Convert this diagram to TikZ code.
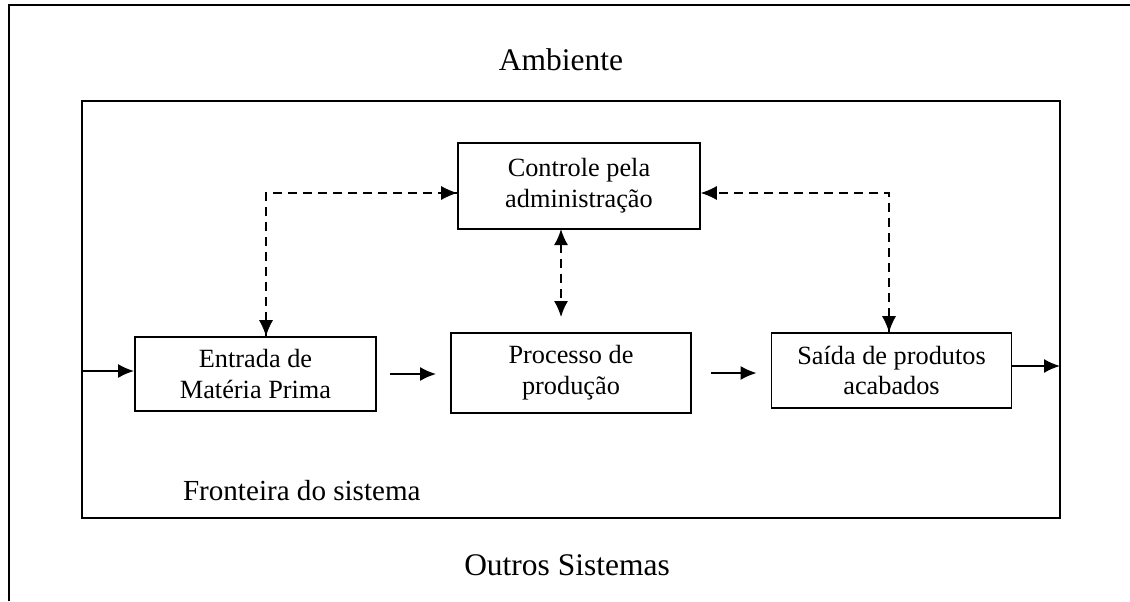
\documentclass[tikz,border=0pt]{standalone}
\usepackage{fontspec}
\setmainfont{Liberation Serif}
\usetikzlibrary{arrows.meta}
\tikzset{
  blockBox/.style={draw, line width=0.9bp, inner sep=0pt, align=center,
    font=\fontsize{13.2}{15.5}\selectfont},
  bigLabel/.style={font=\fontsize{15.8}{19}\selectfont},
  flowLink/.style={line width=0.9bp, -{Latex[length=8bp,width=7bp]}},
  dashLink/.style={line width=0.9bp, dash pattern=on 4.5bp off 3bp},
  tipEnd/.style={-{Latex[length=8bp,width=7bp]}},
  tipBoth/.style={{Latex[length=8bp,width=7bp]}-{Latex[length=8bp,width=7bp]}}
}

\begin{document}
\begin{tikzpicture}[x=0.5bp,y=-0.5bp]
\useasboundingbox (0, 0) rectangle (1130, 601);

% frame layer
\begin{scope}
\draw[line width=1.2bp] (9, 601) -- (9, 5) -- (1130, 5);
\draw[line width=1.1bp] (82, 101) rectangle (1060, 518);
\end{scope}

% label layer
\begin{scope}
\node[bigLabel] (ambiente) at (561, 60) {Ambiente};
\node[font=\fontsize{14.6}{18}\selectfont, anchor=west] (fronteira) at (176, 491) {Fronteira do sistema};
\node[bigLabel] (outros) at (567, 565) {Outros Sistemas};
\end{scope}

% box layer
\begin{scope}
\node[blockBox, minimum width=121bp, minimum height=43bp] (ctrl) at (579, 186)
  {Controle pela\\administração};
\node[blockBox, minimum width=120.5bp, minimum height=37bp] (entrada) at (255.5, 374)
  {Entrada de\\Matéria Prima};
\node[blockBox, minimum width=120bp, minimum height=40bp] (proc) at (571, 373)
  {Processo de\\produção};
\node[blockBox, minimum width=120bp, minimum height=37.5bp] (saida) at (891.5, 370.5)
  {Saída de produtos\\acabados};
\end{scope}

% flow layer
\begin{scope}
\coordinate (inStart) at (83, 371);
\coordinate (outEnd) at (1060, 366);
\draw[flowLink] (inStart) -- (inStart -| entrada.west);
\draw[flowLink, shorten <=6.5bp, shorten >=7bp] (entrada.east) -- (entrada.east -| proc.west);
\draw[flowLink, shorten <=9.5bp, shorten >=7bp] (proc.east) -- (proc.east -| saida.west);
\draw[flowLink] (saida.east |- outEnd) -- (outEnd);
\end{scope}

% control layer
\begin{scope}
\coordinate (leftBend) at (266, 193);
\coordinate (rightBend) at (889, 193);
\coordinate (midTop) at (561, 229);
\draw[dashLink] (leftBend |- entrada.north) -- (leftBend) -- (leftBend -| ctrl.west);
\draw[tipEnd] ([xshift=-1bp]leftBend -| ctrl.west) -- (leftBend -| ctrl.west);
\draw[tipEnd] ([yshift=1bp]leftBend |- entrada.north) -- (leftBend |- entrada.north);
\draw[dashLink] (rightBend |- saida.north) -- (rightBend) -- (rightBend -| ctrl.east);
\draw[tipEnd] ([xshift=1bp]rightBend -| ctrl.east) -- (rightBend -| ctrl.east);
\draw[tipEnd] ([yshift=1bp]rightBend |- saida.north) -- (rightBend |- saida.north);
\draw[dashLink, tipBoth, shorten >=7.5bp] (midTop) -- (midTop |- proc.north);
\end{scope}

\end{tikzpicture}
\end{document}
